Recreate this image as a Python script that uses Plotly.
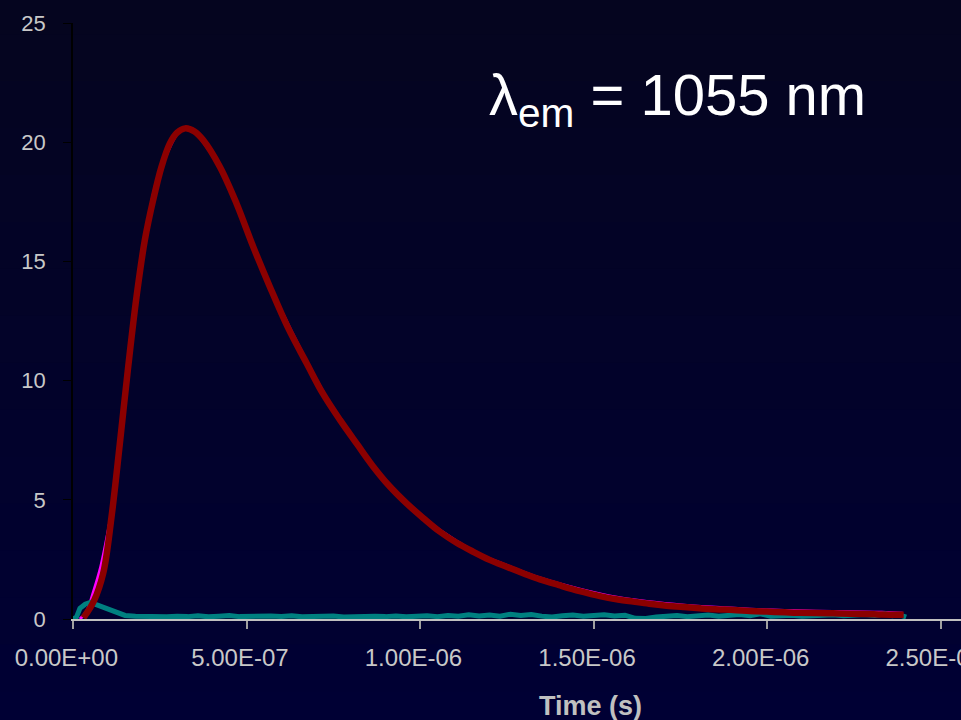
import plotly.graph_objects as go

# ---- data (time in seconds, intensity) ----
red_t = [0.030e-6, 0.060e-6, 0.087e-6, 0.111e-6, 0.135e-6, 0.159e-6, 0.183e-6, 0.207e-6,
         0.231e-6, 0.255e-6, 0.279e-6, 0.300e-6, 0.323e-6, 0.350e-6, 0.375e-6, 0.423e-6,
         0.471e-6, 0.519e-6, 0.567e-6, 0.620e-6, 0.673e-6, 0.720e-6, 0.769e-6, 0.820e-6,
         0.865e-6, 0.910e-6, 0.961e-6, 1.010e-6, 1.057e-6, 1.105e-6, 1.153e-6, 1.200e-6,
         1.249e-6, 1.300e-6, 1.345e-6, 1.400e-6, 1.460e-6, 1.518e-6, 1.570e-6, 1.614e-6,
         1.660e-6, 1.710e-6, 1.760e-6, 1.806e-6, 1.850e-6, 1.902e-6, 1.950e-6, 1.998e-6,
         2.050e-6, 2.094e-6, 2.140e-6, 2.190e-6, 2.240e-6, 2.286e-6, 2.330e-6, 2.393e-6]
red_y = [0.05, 0.75, 1.92, 4.29, 7.37, 10.58, 13.52, 15.90,
         17.58, 18.97, 19.95, 20.40, 20.58, 20.45, 20.09, 18.97,
         17.43, 15.62, 13.94, 12.20, 10.73, 9.45, 8.35, 7.30,
         6.39, 5.60, 4.85, 4.22, 3.66, 3.20, 2.82, 2.48,
         2.19, 1.90, 1.66, 1.42, 1.17, 0.96, 0.82, 0.73,
         0.64, 0.56, 0.50, 0.45, 0.41, 0.38, 0.34, 0.31,
         0.28, 0.26, 0.25, 0.24, 0.22, 0.21, 0.19, 0.18]

mag_t = [0.020e-6, 0.040e-6, 0.059e-6, 0.080e-6, 0.100e-6, 0.111e-6, 0.135e-6, 0.159e-6,
         0.207e-6, 0.255e-6, 0.323e-6, 0.423e-6, 0.567e-6, 0.769e-6, 0.961e-6, 1.153e-6,
         1.249e-6, 1.345e-6, 1.460e-6, 1.570e-6, 1.660e-6, 1.760e-6, 1.850e-6, 1.950e-6,
         2.050e-6, 2.140e-6, 2.240e-6, 2.330e-6, 2.390e-6]
mag_y = [0.00, 0.35, 1.15, 2.20, 3.60, 4.50, 7.50, 10.65,
         15.90, 18.97, 20.60, 18.97, 13.94, 8.35, 4.85, 2.85,
         2.25, 1.72, 1.25, 0.90, 0.72, 0.58, 0.49, 0.41,
         0.36, 0.33, 0.30, 0.28, 0.24]

teal_t = [0.000e-6, 0.010e-6, 0.020e-6, 0.035e-6, 0.050e-6, 0.065e-6, 0.080e-6, 0.100e-6,
          0.115e-6, 0.130e-6, 0.150e-6, 0.180e-6, 0.210e-6, 0.240e-6, 0.270e-6, 0.300e-6,
          0.330e-6, 0.360e-6, 0.390e-6, 0.420e-6, 0.450e-6, 0.480e-6, 0.510e-6, 0.540e-6,
          0.570e-6, 0.600e-6, 0.630e-6, 0.660e-6, 0.690e-6, 0.720e-6, 0.750e-6, 0.780e-6,
          0.810e-6, 0.840e-6, 0.870e-6, 0.900e-6, 0.930e-6, 0.960e-6, 0.990e-6, 1.020e-6,
          1.050e-6, 1.080e-6, 1.110e-6, 1.140e-6, 1.170e-6, 1.200e-6, 1.230e-6, 1.260e-6,
          1.290e-6, 1.320e-6, 1.350e-6, 1.380e-6, 1.410e-6, 1.440e-6, 1.470e-6, 1.500e-6,
          1.530e-6, 1.560e-6, 1.590e-6, 1.620e-6, 1.650e-6, 1.680e-6, 1.710e-6, 1.740e-6,
          1.770e-6, 1.800e-6, 1.830e-6, 1.860e-6, 1.890e-6, 1.920e-6, 1.950e-6, 1.980e-6,
          2.010e-6, 2.040e-6, 2.070e-6, 2.100e-6, 2.130e-6, 2.160e-6, 2.190e-6, 2.220e-6,
          2.250e-6, 2.280e-6, 2.310e-6, 2.340e-6, 2.360e-6, 2.380e-6, 2.400e-6]
teal_y = [0.00, 0.08, 0.45, 0.62, 0.70, 0.62, 0.52, 0.42,
          0.32, 0.22, 0.15, 0.12, 0.10, 0.13, 0.09, 0.12,
          0.10, 0.14, 0.09, 0.12, 0.15, 0.10, 0.12, 0.09,
          0.13, 0.11, 0.14, 0.09, 0.12, 0.10, 0.13, 0.08,
          0.11, 0.09, 0.12, 0.10, 0.13, 0.09, 0.11, 0.14,
          0.10, 0.15, 0.12, 0.18, 0.13, 0.17, 0.12, 0.20,
          0.15, 0.19, 0.12, 0.08, 0.14, 0.17, 0.12, 0.15,
          0.18, 0.13, 0.16, 0.03, 0.02, 0.08, 0.12, 0.15,
          0.10, 0.14, 0.17, 0.12, 0.16, 0.19, 0.14, 0.22,
          0.12, 0.14, 0.16, 0.12, 0.15, 0.13, 0.18, 0.14,
          0.16, 0.19, 0.15, 0.22, 0.14, 0.18, 0.08]

tick_vals = [0, 0.5e-6, 1.0e-6, 1.5e-6, 2.0e-6, 2.5e-6]
tick_text = ["0.00E+00", "5.00E-07", "1.00E-06", "1.50E-06", "2.00E-06", "2.50E-06"]
y_tick_vals = [0, 5, 10, 15, 20, 25]
x_title = "Time (s)"
label_text = "λ<sub>em</sub> = 1055 nm"

FONT = "Liberation Sans, Arial, sans-serif"
PAD = "\u00a0\u00a0"  # labels sit slightly left of their ticks in the original

fig = go.Figure()
fig.add_trace(go.Scatter(x=mag_t, y=mag_y, mode="lines", line_shape="spline",
                         line=dict(color="#ff00ff", width=3), showlegend=False))
fig.add_trace(go.Scatter(x=teal_t, y=teal_y, mode="lines",
                         line=dict(color="#008080", width=5), showlegend=False))
fig.add_trace(go.Scatter(x=red_t, y=red_y, mode="lines", line_shape="spline",
                         line=dict(color="#8b0000", width=6.5), showlegend=False))

# background gradient bands (top -> bottom)
top = (5, 5, 31)
bot = (0, 0, 52)
n = 16
y_hi, y_lo = 1.06, -0.2
step = (y_hi - y_lo) / n
shapes = []
for i in range(n):
    f = i / (n - 1)
    c = tuple(round(top[k] + (bot[k] - top[k]) * f) for k in range(3))
    y1 = y_hi - i * step
    y0 = y1 - step - 0.003
    shapes.append(dict(type="rect", xref="paper", yref="paper", x0=-0.12, x1=1.05,
                       y0=y0, y1=y1, line=dict(width=0),
                       fillcolor="rgb(%d,%d,%d)" % c, layer="below"))

fig.update_layout(
    width=961, height=720,
    margin=dict(l=73, r=0, t=23, b=101, autoexpand=False),
    paper_bgcolor="rgb(3,3,40)",
    plot_bgcolor="rgba(0,0,0,0)",
    shapes=shapes,
    font=dict(family=FONT, color="#c8c8c8"),
    xaxis=dict(range=[0, 2.558e-6], tickvals=tick_vals,
               ticktext=[t + PAD for t in tick_text],
               automargin=False,
               showgrid=False, zeroline=False, showline=True, linecolor="#c0c0c0",
               linewidth=1.5, ticks="outside", ticklen=8, tickwidth=1.5,
               tickcolor="#a0a0a0", tickfont=dict(size=24, color="#c8c8c8"),
               ticklabelstandoff=8, ticklabeloverflow="allow"),
    yaxis=dict(range=[0, 25], tickvals=y_tick_vals, showgrid=False, zeroline=False,
               automargin=False,
               showline=True, linecolor="#000000", linewidth=1.5, ticks="outside",
               ticklen=8, tickcolor="#000000", tickfont=dict(size=22, color="#c8c8c8"),
               ticklabelstandoff=13),
    annotations=[
        dict(text=label_text, xref="paper", yref="paper",
             x=0.466, y=0.872, xanchor="left", yanchor="middle", showarrow=False,
             font=dict(size=58, color="#ffffff", family=FONT)),
        dict(text="<b>" + x_title + "</b>", xref="paper", yref="paper",
             x=0.583, y=-0.146, xanchor="center", yanchor="middle", showarrow=False,
             font=dict(size=27, color="#c0c0c0", family=FONT)),
    ],
)

fig.write_html("out.html",
               config={"displayModeBar": False},
               post_script="document.body.style.margin='0';"
                           "document.body.style.overflow='hidden';"
                           "document.body.style.background='rgb(3,3,40)';")
